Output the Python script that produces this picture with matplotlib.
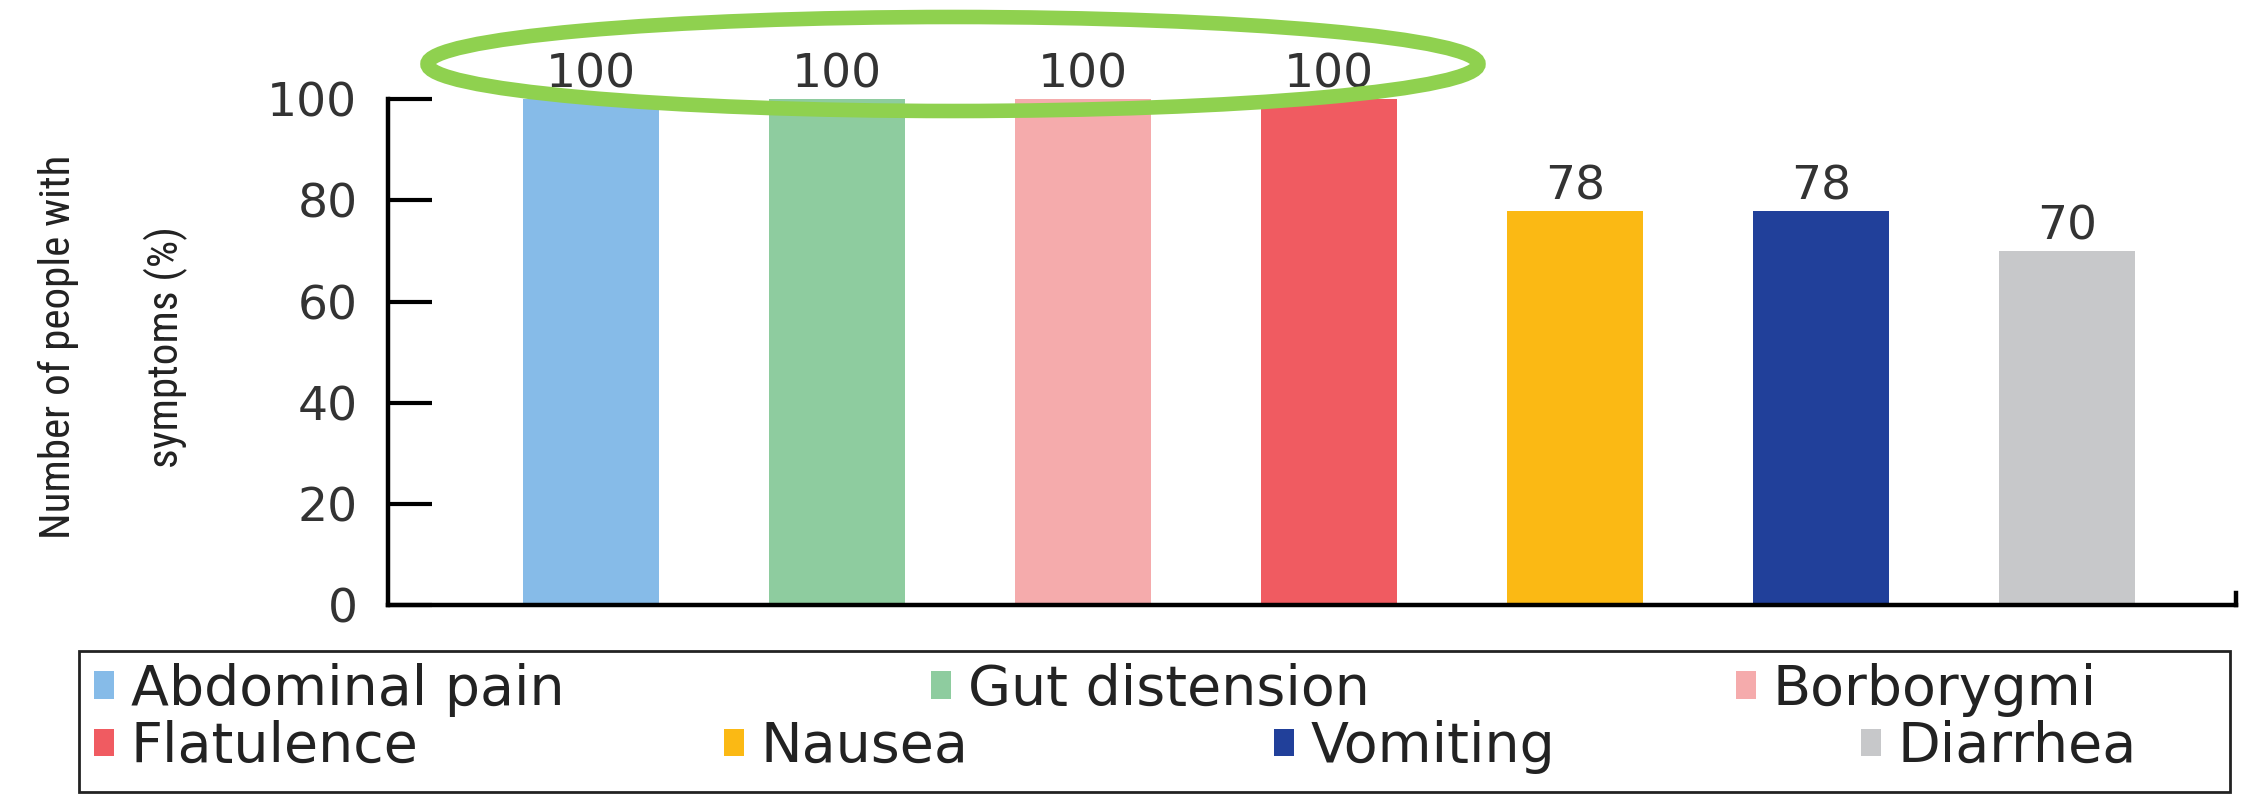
import matplotlib.pyplot as plt
from matplotlib.patches import Ellipse, Patch, Rectangle

# Symptom frequency (%)
symptoms = ['Abdominal pain', 'Gut distension', 'Borborygmi', 'Flatulence',
            'Nausea', 'Vomiting', 'Diarrhea']
percent = [100, 100, 100, 100, 78, 78, 70]
colors = ['#86BBE8', '#8ECC9F', '#F5ABAC', '#F05B61', '#FBB914', '#21409A', '#C7C8CA']
yticks = [0, 20, 40, 60, 80, 100]

fig = plt.figure(figsize=(22.62, 7.94), dpi=100)
ax = fig.add_axes([0.1715, 0.238, 0.817, 0.637])

x = range(len(symptoms))
bars = ax.bar(x, percent, width=0.55, color=colors, clip_on=False)
ax.bar_label(bars, padding=1, fontsize=34, color='#333333')

ax.set_xlim(-0.825, 6.687)
ax.set_ylim(0, 100)
ax.set_yticks(yticks)
ax.set_xticks([])
ax.tick_params(axis='y', direction='in', length=32, width=3, labelsize=34,
               labelcolor='#333333', pad=22)
ax.spines['top'].set_visible(False)
for s in ['left', 'bottom', 'right']:
    ax.spines[s].set_linewidth(3.2)
ax.spines['right'].set_bounds(0, 2.4)

ax.set_ylabel('Number of people with\nsymptoms (%)', fontsize=31,
              family=['Roboto Condensed', 'DejaVu Sans'],
              linespacing=2.9, color='#222222')
ax.yaxis.set_label_coords(-0.108, 0.51)

# legend: two rows inside one box
handles = [Patch(facecolor=c, edgecolor='none') for c in colors]
leg_kw = dict(loc='center left', frameon=False, fontsize=40, handlelength=0.36,
              handleheight=0.38, handletextpad=0.3, borderpad=0, borderaxespad=0,
              labelcolor='#222222')
fig.legend(handles[:3], symptoms[:3], ncol=3, bbox_to_anchor=(0.0416, 0.131),
           columnspacing=6.6, **leg_kw)
fig.legend(handles[3:], symptoms[3:], ncol=4, bbox_to_anchor=(0.0416, 0.059),
           columnspacing=5.5, **leg_kw)
fig.add_artist(Rectangle((0.0349, 0.0025), 0.951, 0.1775, transform=fig.transFigure,
                         fill=False, edgecolor='#222222', linewidth=2))

# highlight ellipse around the 100% labels
fig.add_artist(Ellipse((0.4213, 0.9194), 0.4646, 0.1184, transform=fig.transFigure,
                       fill=False, edgecolor='#8FD14F', linewidth=10.5, zorder=10))

fig.savefig('out.png', dpi=100)
